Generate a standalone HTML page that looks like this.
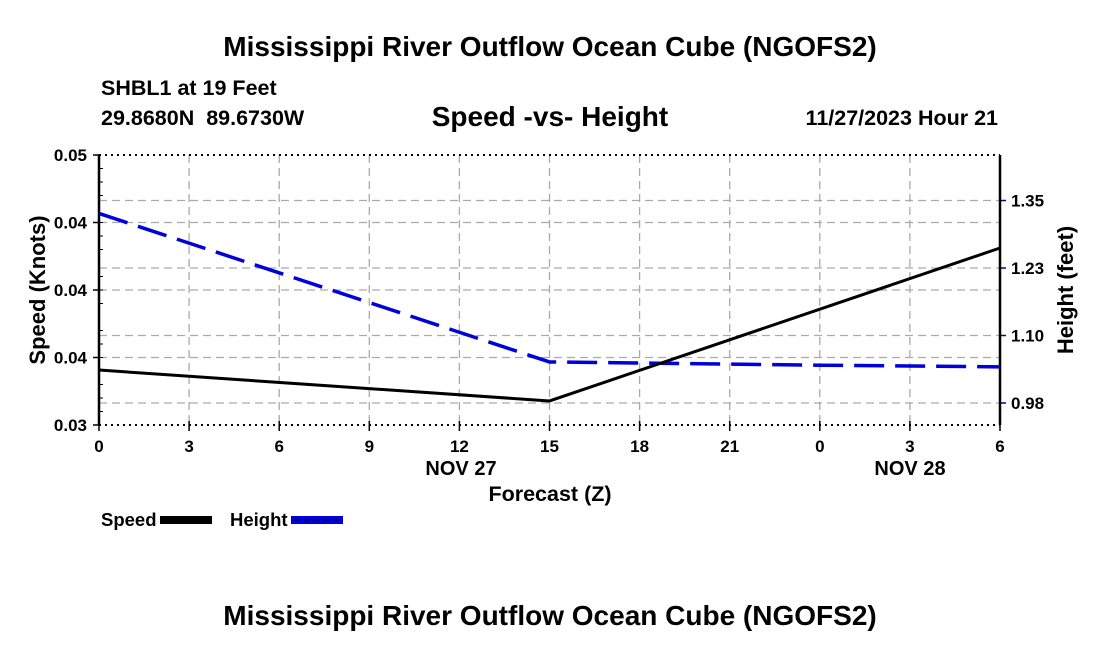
<!DOCTYPE html>
<html><head><meta charset="utf-8"><style>
body{margin:0;background:#fff;width:1100px;height:650px;overflow:hidden;font-family:"Liberation Sans",sans-serif}
svg text{font-family:"Liberation Sans",sans-serif;font-weight:bold;white-space:pre}
</style></head><body>
<svg id="chart" width="1100" height="650" xmlns="http://www.w3.org/2000/svg">
<text x="550" y="56" font-size="28" text-anchor="middle">Mississippi River Outflow Ocean Cube (NGOFS2)</text>
<text x="101" y="95" font-size="21.5">SHBL1 at 19 Feet</text>
<text x="101" y="125" font-size="21.5" xml:space="preserve">29.8680N  89.6730W</text>
<text x="550" y="126" font-size="28" text-anchor="middle">Speed -vs- Height</text>
<text x="998" y="125" font-size="21.5" text-anchor="end">11/27/2023 Hour 21</text>
<text x="550" y="625" font-size="28" text-anchor="middle">Mississippi River Outflow Ocean Cube (NGOFS2)</text>
<g id="grid"></g><g id="axes"></g><g id="series"></g>
<text transform="translate(45,290) rotate(-90)" font-size="22" text-anchor="middle">Speed (Knots)</text>
<text transform="translate(1073,290) rotate(-90)" font-size="22" text-anchor="middle">Height (feet)</text>
<text x="550" y="501" font-size="21.5" text-anchor="middle">Forecast (Z)</text>
<text x="461" y="475" font-size="20" text-anchor="middle">NOV 27</text>
<text x="910" y="475" font-size="20" text-anchor="middle">NOV 28</text>
<g>
<text x="101" y="526" font-size="18.5">Speed</text>
<rect x="160" y="516" width="52" height="8" fill="#000"/>
<text x="230" y="526" font-size="18.5">Height</text>
<rect x="291" y="516" width="52" height="8" fill="#0000dd"/>
<line x1="293" y1="520" x2="342" y2="520" stroke="#000" stroke-width="1" stroke-dasharray="6,4"/>
</g>
</svg>
<script>
const hours = [0, 15, 30];
const speedVals = [0.03407, 0.03178, 0.04311];
const heightHours = [0, 15, 24, 30];
const heightVals = [1.326, 1.051, 1.045, 1.042];
const xTickLabels = ["0","3","6","9","12","15","18","21","0","3","6"];
const yTickVals = [0.03, 0.035, 0.04, 0.045, 0.05];
const yTickLabels = ["0.03","0.04","0.04","0.04","0.05"];
const y2TickVals = [0.975, 1.1, 1.225, 1.35];
const y2TickLabels = ["0.98","1.10","1.23","1.35"];

const L=99,R=1000,T=155,B=425;
const NS="http://www.w3.org/2000/svg";
const x=h=>L+h/30*(R-L);
const y=v=>B-(v-0.03)/0.02*(B-T);
const y2=v=>403-(v-0.975)/0.125*67.5;
function mk(tag,attrs,parent){const e=document.createElementNS(NS,tag);for(const k in attrs)e.setAttribute(k,attrs[k]);parent.appendChild(e);return e;}
const grid=document.getElementById('grid'),axes=document.getElementById('axes'),series=document.getElementById('series');

xTickLabels.forEach((lab,i)=>{
  const px=x(i*3);
  if(i>0&&i<10){const g=mk('line',{x1:px,y1:T,x2:px,y2:B,stroke:'#aaa','stroke-width':1.3,'stroke-dasharray':'8,5'},grid);
  
  }
  const tk=mk('line',{x1:px,y1:B-4,x2:px,y2:B+6,stroke:'#000','stroke-width':1.5},axes);
  
  
  const t=mk('text',{x:px,y:B+27,'font-size':17,'text-anchor':'middle'},axes);t.textContent=lab;
  
  
});
yTickVals.forEach((v,i)=>{
  const py=y(v);
  if(i>0&&i<4){const g=mk('line',{x1:L,y1:py,x2:R,y2:py,stroke:'#aaa','stroke-width':1.3,'stroke-dasharray':'8,5'},grid);
  
  }
  const tk=mk('line',{x1:L-6,y1:py,x2:L,y2:py,stroke:'#000','stroke-width':1.5},axes);
  
  
  const t=mk('text',{x:L-12,y:py+6,'font-size':17,'text-anchor':'end'},axes);t.textContent=yTickLabels[i];
  
  
});
for(let k=1;k<20;k++){if(k%4===0)continue;const py=B-k*(B-T)/20;const m=mk('line',{x1:L,y1:py,x2:L+4,y2:py,stroke:'#000','stroke-width':1},axes);
  
  }
y2TickVals.forEach((v,i)=>{
  const py=y2(v);
  const g=mk('line',{x1:L,y1:py,x2:R,y2:py,stroke:'#aaa','stroke-width':1.3,'stroke-dasharray':'8,5'},grid);
  
  
  const tk=mk('line',{x1:R,y1:py,x2:R+6,y2:py,stroke:'#0000aa','stroke-width':1.5},axes);
  
  
  const t=mk('text',{x:R+11,y:py+6,'font-size':17},axes);t.textContent=y2TickLabels[i];
  
  
});
[[L,T,L,B,'left-axis'],[R,T,R,B,'right-axis']].forEach(a=>{const e=mk('line',{x1:a[0],y1:a[1],x2:a[2],y2:a[3],stroke:'#000','stroke-width':2.5},axes);
  
  });
[[T,'top-border'],[B,'bottom-border']].forEach(a=>{const e=mk('line',{x1:L,y1:a[0],x2:R,y2:a[0],stroke:'#000','stroke-width':2,'stroke-dasharray':'2,4'},axes);
  
  });

const hp=mk('polyline',{points:heightHours.map((h,i)=>x(h)+','+y2(heightVals[i])).join(' '),fill:'none',stroke:'#0000dd','stroke-width':3.5,'stroke-dasharray':'30,11'},series);


const sp=mk('polyline',{points:hours.map((h,i)=>x(h)+','+y(speedVals[i])).join(' '),fill:'none',stroke:'#000','stroke-width':3},series);


</script>
</body></html>
